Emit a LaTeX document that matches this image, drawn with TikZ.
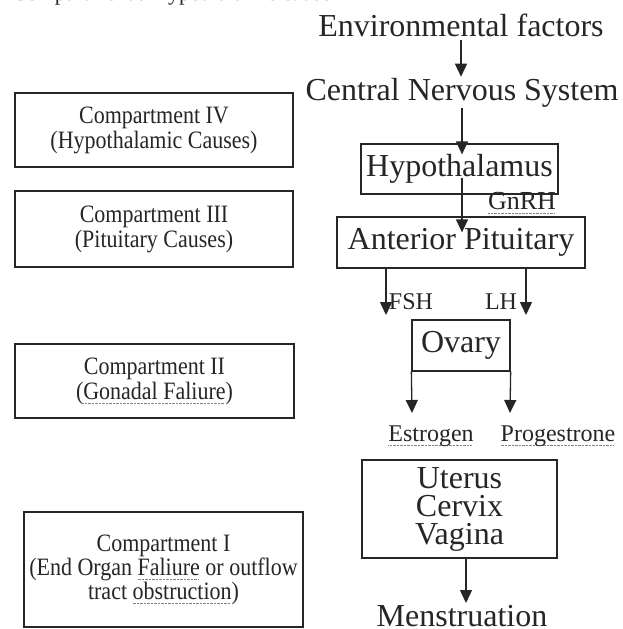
\documentclass[tikz,border=0pt]{standalone}
\usepackage{fontspec}
\setmainfont{Liberation Serif}
\newfontfamily\compfont[FakeStretch=0.88]{Liberation Serif}
\usetikzlibrary{arrows.meta}
\definecolor{ink}{HTML}{262626}
\definecolor{spred}{HTML}{D06070}
\definecolor{spgreen}{HTML}{50A050}
\newsavebox\spbox
\newcommand\spmark[2]{\sbox\spbox{#2}\rlap{\textcolor{#1}{\raisebox{-0.17em}{\hbox to\wd\spbox{\leaders\hbox{\rule{0.7pt}{0.7pt}\kern0.7pt}\hfill}}}}\usebox\spbox}
\newcommand\spr[1]{\spmark{spred}{#1}}
\newcommand\spg[1]{\spmark{spgreen}{#1}}
\begin{document}
\begin{tikzpicture}[x=1pt,y=-1pt,
  every node/.style={text=ink, inner sep=0pt},
  boxed/.style={draw=ink, line width=1.3pt, align=center},
  arr/.style={draw=ink, line width=1.3pt, -{Triangle[length=13pt,width=12pt]}},
  big/.style={font=\fontsize{32}{28}\selectfont},
  mid/.style={font=\fontsize{24}{24}\selectfont},
  comp/.style={boxed, font=\compfont\fontsize{25}{25}\selectfont},
]
\useasboundingbox[fill=white] (0,0) rectangle (622,629);

% top clipped caption
\node[anchor=base west, font=\fontsize{22}{22}\selectfont] (cap) at (12,1) {Compartment : Hypothalamic cause};

% main column
\node[big] (env) at (461,25) {Environmental factors};
\node[big] (cns) at (462,93) {Central Nervous System};
\node[big, boxed, minimum width=197pt, minimum height=50pt] (hyp) at (459.5,169) {Hypothalamus};
\node[font=\fontsize{26}{26}\selectfont] (gnrh) at (522,203) {\spr{GnRH}};
\node[big, boxed, minimum width=248pt, minimum height=51pt] (ap) at (461,242.5) {Anterior Pituitary};
\node[mid] (fsh) at (411,302) {FSH};
\node[mid] (lh) at (501,302) {LH};
\node[big, boxed, minimum width=98pt, minimum height=51pt] (ov) at (461,345.5) {Ovary};
\node[mid] (est) at (431,436) {\spr{Estrogen}};
\node[mid] (prog) at (558,436) {\spr{Progestrone}};
\node[big, boxed, minimum width=195pt, minimum height=98pt] (ut) at (459.5,509) {Uterus\\Cervix\\Vagina};
\node[big] (men) at (462,616) {Menstruation};

% compartments
\node[comp, minimum width=278pt, minimum height=74pt] (c4) at (154,130) {Compartment IV\\(Hypothalamic Causes)};
\node[comp, minimum width=278pt, minimum height=76pt] (c3) at (154,229) {Compartment III\\(Pituitary Causes)};
\node[comp, minimum width=279pt, minimum height=74pt] (c2) at (154.5,381) {Compartment II\\(\spr{Gonadal Faliure})};
\node[comp, font=\compfont\fontsize{25}{24}\selectfont, minimum width=279pt, minimum height=115pt] (c1) at (163.5,569.5) {Compartment I\\(End Organ \spr{Faliure} or outflow\\tract \spg{obstruction})};

% connector end points
\coordinate (fshtip) at (386,315);
\coordinate (lhtip) at (526,315);
\coordinate (esttip) at (412,413);
\coordinate (progtip) at (510,413);
\coordinate (mentip) at (466,603);

% connectors
\draw[arr, shorten <=3pt, shorten >=1.5pt] (env.south) -- (env.south |- cns.north);
\draw[arr, shorten >=-11pt] (cns.south) -- (cns.south |- hyp.north);
\draw[arr, shorten >=-16pt] ([yshift=-9pt]hyp.center -| cns.south) -- (cns.south |- ap.north);
\draw[arr] (ap.south -| fshtip) -- (fshtip);
\draw[arr] (ap.south -| lhtip) -- (lhtip);
\draw[arr] (ov.south west) -- (esttip);
\draw[arr] (ov.south east) -- (progtip);
\draw[arr] (ut.south -| mentip) -- (mentip);
\end{tikzpicture}
\end{document}
